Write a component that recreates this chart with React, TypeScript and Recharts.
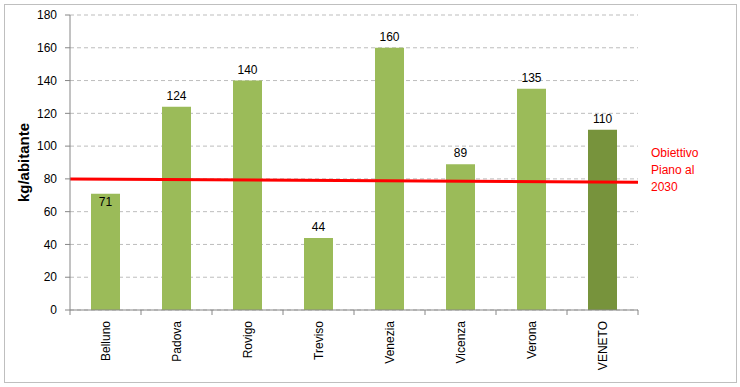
import { ComposedChart, Bar, Line, XAxis, YAxis, CartesianGrid, Cell, LabelList } from 'recharts';

const provinces = ['Belluno', 'Padova', 'Rovigo', 'Treviso', 'Venezia', 'Vicenza', 'Verona', 'VENETO'];
const kgPerInhabitant = [71, 124, 140, 44, 160, 89, 135, 110];
const yTicks = [0, 20, 40, 60, 80, 100, 120, 140, 160, 180];
// target line, drawn from the left edge to the right edge of the plot
const targetPos = [0, 1];
const targetValues = [80, 78];
const targetLabel = ['Obiettivo', 'Piano al', '2030'];

const W = 740;
const H = 387;
const Y_AXIS_W = 70;
const X_AXIS_H = 77;
const MARGIN_RIGHT = 102;
const MARGIN_TOP = 15;
const PLOT_W = W - Y_AXIS_W - MARGIN_RIGHT;
const PLOT_BOTTOM = H - X_AXIS_H;
const BAND = PLOT_W / provinces.length;
const FONT = '"Liberation Sans", Arial, sans-serif';

const data = provinces.map((name, i) => ({ name, value: kgPerInhabitant[i] }));
const targetData = targetPos.map((x, i) => ({ x, target: targetValues[i] }));

function XTick(props: any) {
  const { x, payload, index } = props;
  const left = x - BAND / 2;
  return (
    <g>
      <line x1={left} x2={left} y1={PLOT_BOTTOM} y2={PLOT_BOTTOM + 5} stroke="#868686" />
      {index === provinces.length - 1 && (
        <line x1={left + BAND} x2={left + BAND} y1={PLOT_BOTTOM} y2={PLOT_BOTTOM + 5} stroke="#868686" />
      )}
      <text
        x={0}
        y={0}
        transform={`translate(${x + 4},${PLOT_BOTTOM + 11}) rotate(-90)`}
        textAnchor="end"
        fontSize={12}
        fontFamily={FONT}
        fill="#000"
      >
        {payload.value}
      </text>
    </g>
  );
}

// labels that would sit on the target line go inside the bar top
function ValueLabel(props: any) {
  const { x, y, width, value } = props;
  const cx = x + width / 2;
  const insideBar = value > 66 && value < 84;
  return (
    <text
      x={cx}
      y={insideBar ? y + 12 : y - 7}
      textAnchor="middle"
      fontSize={12}
      fontFamily={FONT}
      fill="#000"
    >
      {value}
    </text>
  );
}

function TargetLabel(props: any) {
  const { x, y, index } = props;
  if (index !== targetData.length - 1) return null;
  return (
    <text x={x + 13} y={y - 25} fontSize={12} fontFamily={FONT} fill="#ff0000">
      {targetLabel.map((t, i) => (
        <tspan key={t} x={x + 13} dy={i === 0 ? 0 : 17}>
          {t}
        </tspan>
      ))}
    </text>
  );
}

export default function App() {
  return (
    <div style={{ position: 'fixed', left: 0, top: 0, width: W, height: H, background: '#fff' }}>
      <div
        style={{
          position: 'absolute',
          left: 4,
          top: 4,
          width: 731,
          height: 377,
          border: '1px solid #bfbfbf',
        }}
      />
      <ComposedChart
        width={W}
        height={H}
        data={data}
        margin={{ top: MARGIN_TOP, right: MARGIN_RIGHT, left: 0, bottom: 0 }}
        style={{ position: 'absolute', left: 0, top: 0 }}
      >
        <CartesianGrid vertical={false} stroke="#bdbdbd" strokeDasharray="4 3" />
        <XAxis
          dataKey="name"
          xAxisId="cat"
          height={X_AXIS_H}
          interval={0}
          tickLine={false}
          axisLine={{ stroke: '#868686' }}
          tick={<XTick />}
        />
        <XAxis xAxisId="t" type="number" dataKey="x" domain={[0, 1]} hide />
        <YAxis
          width={Y_AXIS_W}
          domain={[0, 180]}
          ticks={yTicks}
          interval={0}
          axisLine={{ stroke: '#868686' }}
          tickLine={{ stroke: '#868686' }}
          tickSize={5}
          tickMargin={8}
          tick={{ fontSize: 12, fontFamily: FONT, fill: '#000' }}
          label={{
            value: 'kg/abitante',
            angle: -90,
            position: 'insideLeft',
            offset: 24,
            style: { fontSize: 15, fontWeight: 'bold', fontFamily: FONT, fill: '#000', textAnchor: 'middle' },
          }}
        />
        <Bar dataKey="value" xAxisId="cat" barSize={29} isAnimationActive={false}>
          {data.map((d) => (
            <Cell key={d.name} fill={d.name === 'VENETO' ? '#77933c' : '#9bbb59'} />
          ))}
          <LabelList dataKey="value" content={<ValueLabel />} />
        </Bar>
        <Line
          data={targetData}
          xAxisId="t"
          dataKey="target"
          stroke="#ff0000"
          strokeWidth={3}
          dot={false}
          activeDot={false}
          label={<TargetLabel />}
          isAnimationActive={false}
        />
      </ComposedChart>
    </div>
  );
}
